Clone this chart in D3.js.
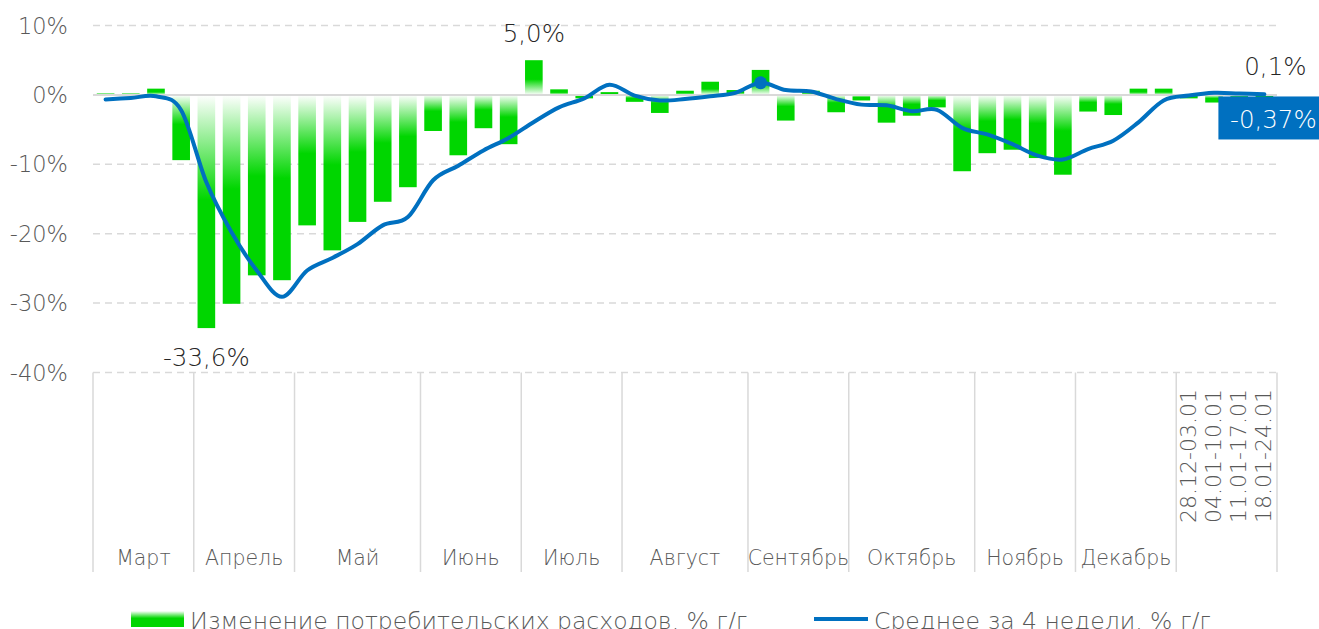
<!DOCTYPE html>
<html>
<head>
<meta charset="utf-8">
<script src="https://cdn.jsdelivr.net/npm/d3@7"></script>
<style>
  body { margin: 0; background: #fff; }
  svg { display: block; font-family: "DejaVu Sans", sans-serif; }
</style>
</head>
<body>
<svg id="chart" width="1319" height="629"></svg>
<script>
// weekly groups on the x axis
var monthNames = ["Март", "Апрель", "Май", "Июнь", "Июль", "Август", "Сентябрь", "Октябрь", "Ноябрь", "Декабрь"];
var monthWeeks = [4, 4, 5, 4, 4, 5, 4, 5, 4, 4];
var janWeeks = ["28.12-03.01", "04.01-10.01", "11.01-17.01", "18.01-24.01"];

// % y/y
var spending = [0.2, 0.2, 0.9, -9.4, -33.6, -30.1, -26.0, -26.7, -18.8, -22.4, -18.3, -15.4, -13.3,
  -5.2, -8.7, -4.8, -7.1, 5.0, 0.8, -0.5, 0.4, -1.0, -2.6, 0.6, 1.9, 0.7,
  3.6, -3.7, 0.6, -2.5, -0.8, -4.0, -3.0, -1.8, -11.0, -8.4, -7.9, -9.1, -11.5,
  -2.4, -2.9, 0.9, 0.9, -0.5, -1.1, -0.6, -0.37];
var avg4 = [-0.65, -0.45, -0.2, -2.2, -12.6, -19.8, -25.3, -29.1, -25.3, -23.5, -21.5, -18.8, -17.6,
  -12.3, -10.2, -8.0, -6.2, -3.9, -1.8, -0.5, 1.45, -0.1, -0.8, -0.6, -0.2, 0.3,
  1.75, 0.7, 0.5, -0.6, -1.4, -1.5, -2.35, -2.15, -4.75, -5.7, -7.1, -8.75, -9.3,
  -7.8, -6.6, -3.95, -0.8, -0.1, 0.3, 0.2, 0.1];
var yTicks = [10, 0, -10, -20, -30, -40];
var seriesNames = ["Изменение потребительских расходов, % г/г", "Среднее за 4 недели, % г/г"];

var green = "#00d600", blue = "#0070c0", grid = "#d9d9d9", txt = "#595959";

// category list: month weeks first, then January weeks with their own labels
var cats = [];
monthNames.forEach(function (m, j) {
  for (var k = 0; k < monthWeeks[j]; k++) cats.push({ group: j, label: "" });
});
janWeeks.forEach(function (w) { cats.push({ group: -1, label: w }); });
cats.forEach(function (c, i) { c.i = i; c.v = spending[i]; c.a = avg4[i]; });

var svg = d3.select("#chart");

var x = d3.scaleBand()
  .domain(cats.map(function (d) { return d.i; }))
  .range([93, 1277])
  .paddingInner(0.3)
  .paddingOuter(0.15);
var y = d3.scaleLinear().domain([-40, 10]).range([372.5, 25.5]);
var cx = function (i) { return x(i) + x.bandwidth() / 2; };
var edge = function (k) { return x.range()[0] + k * x.step(); };

var defs = svg.append("defs");
function grad(id, flip) {
  var g = defs.append("linearGradient").attr("id", id)
    .attr("x1", 0).attr("x2", 0).attr("y1", flip ? 1 : 0).attr("y2", flip ? 0 : 1);
  g.append("stop").attr("offset", 0).attr("stop-color", "#ffffff");
  g.append("stop").attr("offset", 0.45).attr("stop-color", green);
  g.append("stop").attr("offset", 1).attr("stop-color", green);
}
grad("gNeg", false);
grad("gPos", true);

// gridlines
svg.append("g").selectAll("line")
  .data(yTicks.filter(function (t) { return t !== 0; }))
  .enter().append("line")
  .attr("x1", 93).attr("x2", 1277)
  .attr("y1", function (d) { return y(d); }).attr("y2", function (d) { return y(d); })
  .attr("stroke", grid).attr("stroke-width", 1.5).attr("stroke-dasharray", "7,5");

// y tick labels
svg.append("g").selectAll("text")
  .data(yTicks)
  .enter().append("text")
  .attr("x", 68).attr("y", function (d) { return y(d) + 8; })
  .attr("text-anchor", "end")
  .attr("fill", txt).attr("font-size", 22.5).attr("font-weight", 200)
  .text(function (d) { return d + "%"; });

// bars
svg.append("g").selectAll("rect")
  .data(cats)
  .enter().append("rect")
  .attr("x", function (d) { return x(d.i); })
  .attr("width", x.bandwidth())
  .attr("y", function (d) { return d.v >= 0 ? y(d.v) : y(0); })
  .attr("height", function (d) { return Math.abs(y(d.v) - y(0)); })
  .attr("fill", function (d) { return d.v >= 0 ? "url(#gPos)" : "url(#gNeg)"; });

// zero line
svg.append("line")
  .attr("x1", 93).attr("x2", 1277).attr("y1", y(0)).attr("y2", y(0))
  .attr("stroke", grid).attr("stroke-width", 2);

// 4-week average
var line = d3.line()
  .x(function (d) { return cx(d.i); })
  .y(function (d) { return y(d.a); })
  .curve(d3.curveCardinal.tension(0));
svg.append("path")
  .datum(cats)
  .attr("d", line)
  .attr("fill", "none").attr("stroke", blue).attr("stroke-width", 4)
  .attr("stroke-linejoin", "round").attr("stroke-linecap", "round");

svg.append("circle")
  .attr("cx", cx(26)).attr("cy", y(avg4[26])).attr("r", 6.5).attr("fill", blue);

// x axis: group dividers
var bounds = [0];
monthWeeks.forEach(function (n) { bounds.push(bounds[bounds.length - 1] + n); });
bounds.push(cats.length);
svg.append("g").selectAll("line")
  .data(bounds)
  .enter().append("line")
  .attr("x1", function (d) { return edge(d); }).attr("x2", function (d) { return edge(d); })
  .attr("y1", y(-40)).attr("y2", 572)
  .attr("stroke", grid).attr("stroke-width", 1.5);

// month labels
svg.append("g").selectAll("text")
  .data(monthNames)
  .enter().append("text")
  .attr("x", function (d, j) { return (edge(bounds[j]) + edge(bounds[j + 1])) / 2; })
  .attr("y", 565)
  .attr("text-anchor", "middle")
  .attr("fill", txt).attr("font-size", 20.5).attr("font-weight", 200)
  .text(function (d) { return d; });

// January week labels, rotated
svg.append("g").selectAll("text")
  .data(cats.filter(function (d) { return d.label; }))
  .enter().append("text")
  .attr("transform", function (d) { return "translate(" + (cx(d.i) + 7) + ",523) rotate(-90)"; })
  .attr("fill", txt).attr("font-size", 22).attr("font-weight", 200)
  .text(function (d) { return d.label; });

// value labels
var ann = svg.append("g").attr("fill", "#262626").attr("font-size", 24.5).attr("font-weight", 200)
  .attr("text-anchor", "middle");
ann.append("text").attr("x", cx(4)).attr("y", y(spending[4]) + 38).text("-33,6%");
ann.append("text").attr("x", cx(17)).attr("y", y(spending[17]) - 18).text("5,0%");
ann.append("text").attr("x", cx(46) + 11).attr("y", y(avg4[46]) - 19).text("0,1%");

var last = cats.length - 1;
svg.append("rect")
  .attr("x", cx(last) - 46).attr("y", y(spending[last]) - 1)
  .attr("width", 110).attr("height", 43).attr("fill", blue);
svg.append("text")
  .attr("x", cx(last) + 9).attr("y", y(spending[last]) + 31)
  .attr("text-anchor", "middle").attr("fill", "#fff")
  .attr("font-size", 24.5).attr("font-weight", 200)
  .text("-0,37%");

// legend
var lg = svg.append("g").attr("fill", txt).attr("font-size", 23.5).attr("font-weight", 200);
lg.append("rect").attr("x", 131).attr("y", 611).attr("width", 53).attr("height", 16)
  .attr("fill", "url(#gNeg)");
lg.append("text").attr("x", 190).attr("y", 629).text(seriesNames[0]);
lg.append("line").attr("x1", 814).attr("x2", 868).attr("y1", 619).attr("y2", 619)
  .attr("stroke", blue).attr("stroke-width", 4);
lg.append("text").attr("x", 874).attr("y", 629).text(seriesNames[1]);
</script>
</body>
</html>
